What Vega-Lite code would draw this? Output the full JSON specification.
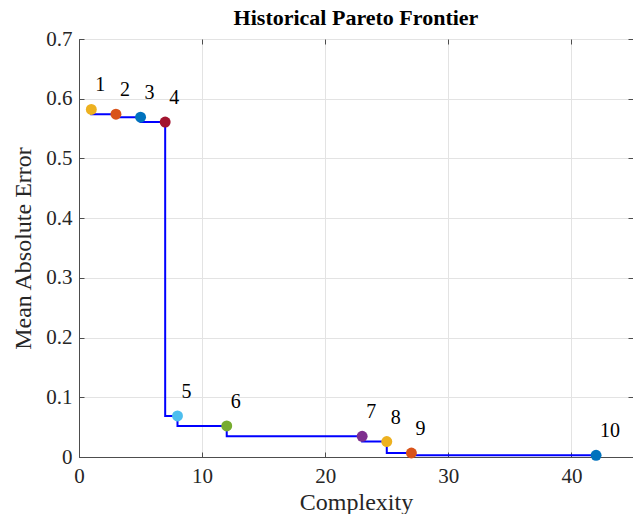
{
  "$schema": "https://vega.github.io/schema/vega-lite/v6.json",
  "width": 554,
  "height": 418,
  "autosize": {"type": "none"},
  "padding": {"left": 79, "top": 39, "right": 0, "bottom": 57},
  "background": "white",
  "title": {"text": "Historical Pareto Frontier", "font": "Liberation Serif", "fontSize": 22, "fontWeight": "bold", "color": "#000000", "offset": -2, "anchor": "middle"},
  "config": {
    "view": {"stroke": "#4d4d4d", "strokeWidth": 1},
    "axis": {
      "domainColor": "#4d4d4d",
      "tickColor": "#4d4d4d",
      "gridColor": "#e3e3e3",
      "labelFont": "Liberation Serif",
      "labelFontSize": 21,
      "labelColor": "#262626",
      "titleFont": "Liberation Serif",
      "titleFontSize": 24,
      "titleFontWeight": "normal",
      "titleColor": "#262626",
      "tickSize": -5
    }
  },
  "data": {
    "values": [
      {"id": "1", "complexity": 1, "mae": 0.582},
      {"id": "2", "complexity": 3, "mae": 0.574},
      {"id": "3", "complexity": 5, "mae": 0.569},
      {"id": "4", "complexity": 7, "mae": 0.561},
      {"id": "5", "complexity": 8, "mae": 0.0687},
      {"id": "6", "complexity": 12, "mae": 0.052},
      {"id": "7", "complexity": 23, "mae": 0.0347},
      {"id": "8", "complexity": 25, "mae": 0.0258},
      {"id": "9", "complexity": 27, "mae": 0.0067},
      {"id": "10", "complexity": 42, "mae": 0.0028}
    ]
  },
  "resolve": {"axis": {"x": "independent", "y": "independent"}},
  "layer": [
    {
      "mark": {"type": "line", "interpolate": "step-before", "color": "#0000ff", "strokeWidth": 2},
      "encoding": {
        "x": {"field": "complexity", "type": "quantitative", "scale": {"domain": [0, 45], "nice": false}, "axis": {"title": "Complexity", "values": [0, 10, 20, 30, 40], "grid": true, "labelPadding": 13, "titlePadding": 4, "labelFlush": false}},
        "y": {"field": "mae", "type": "quantitative", "scale": {"domain": [0, 0.7], "nice": false}, "axis": {"title": "Mean Absolute Error", "values": [0, 0.1, 0.2, 0.3, 0.4, 0.5, 0.6, 0.7], "format": ".1~f", "grid": true, "labelPadding": 12, "titlePadding": 10, "labelFlush": false}}
      }
    },
    {
      "mark": {"type": "point", "filled": true, "size": 120, "opacity": 1},
      "encoding": {
        "x": {"field": "complexity", "type": "quantitative", "axis": {"orient": "top", "title": null, "labels": false, "grid": false, "domain": false, "values": [0, 10, 20, 30, 40]}},
        "y": {"field": "mae", "type": "quantitative", "axis": {"orient": "right", "title": null, "labels": false, "grid": false, "domain": false, "values": [0, 0.1, 0.2, 0.3, 0.4, 0.5, 0.6, 0.7]}},
        "color": {"field": "id", "type": "nominal", "legend": null, "scale": {"domain": ["1", "2", "3", "4", "5", "6", "7", "8", "9", "10"], "range": ["#EDB120", "#D95319", "#0072BD", "#A2142F", "#4DBEEE", "#77AC30", "#7E2F8E", "#EDB120", "#D95319", "#0072BD"]}}
      }
    },
    {
      "mark": {"type": "text", "align": "left", "baseline": "alphabetic", "dx": 4, "dy": -18, "font": "Liberation Serif", "fontSize": 20, "color": "#000000"},
      "encoding": {
        "x": {"field": "complexity", "type": "quantitative", "axis": null},
        "y": {"field": "mae", "type": "quantitative", "axis": null},
        "text": {"field": "id"}
      }
    }
  ]
}
